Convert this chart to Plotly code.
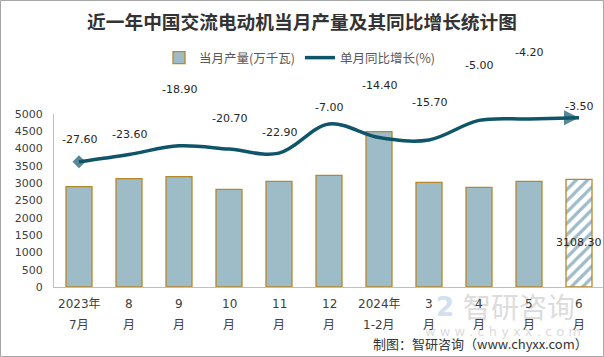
import plotly.graph_objects as go

categories = ["2023年7月", "2023年8月", "2023年9月", "2023年10月", "2023年11月", "2023年12月",
              "2024年1-2月", "2024年3月", "2024年4月", "2024年5月", "2024年6月"]
tick_line1 = ["2023年", "8", "9", "10", "11", "12", "2024年", "3", "4", "5", "6"]
tick_line2 = ["7月", "月", "月", "月", "月", "月", "1-2月", "月", "月", "月", "月"]
output_values = [2900, 3130, 3188, 2824, 3055, 3228, 4489, 3026, 2881, 3055, 3108.30]
yoy_growth = [-27.60, -23.60, -18.90, -20.70, -22.90, -7.00, -14.40, -15.70, -5.00, -4.20, -3.50]
# vertical offsets (px) of the growth data labels, as placed in the original
label_shift = [22, 20, 56, 31, 21, 17, 52, 37, 55, 66, 11]

BAR_FILL = "#9EBBC8"
BAR_EDGE = "#B5882A"
LINE_COL = "#0F5569"
W, H = 604, 357
ML, MR, MT, MB = 54, 0, 114, 70
PW, PH = W - ML - MR, H - MT - MB


def px_x(p):
    return (p - ML) / PW


def px_y(p):
    return (MT + PH - p) / PH


n = len(categories)
patterns = [""] * (n - 1) + ["/"]

fig = go.Figure()
fig.add_trace(go.Bar(
    x=categories, y=output_values, name="当月产量(万千瓦)",
    width=0.52,
    marker=dict(color=BAR_FILL, line=dict(color=BAR_EDGE, width=1.3),
                pattern=dict(shape=patterns, size=8, solidity=0.4, fillmode="replace")),
))

symbols = ["diamond"] + ["circle"] * (n - 2) + ["arrow-right"]
sizes = [10] + [0] * (n - 2) + [15]
fig.add_trace(go.Scatter(
    x=categories, y=yoy_growth, name="单月同比增长(%)", yaxis="y2",
    mode="lines+markers", line=dict(color=LINE_COL, width=3.5, shape="spline", smoothing=1.0),
    marker=dict(symbol=symbols, size=sizes, color=LINE_COL, line=dict(width=0)),
    cliponaxis=False,
))

ann = []
# watermark
ann.append(dict(text="智研咨询", x=px_x(519), y=px_y(306), xref="paper", yref="paper",
                xanchor="center", yanchor="middle",
                showarrow=False, font=dict(family="Noto Sans CJK SC", size=28, color="#DCDCDC")))
ann.append(dict(text="w w w . c h y x x . c o m", x=px_x(503), y=px_y(331),
                xref="paper", yref="paper", xanchor="center", yanchor="middle", showarrow=False,
                font=dict(family="DejaVu Sans", size=13, color="#DCDCDC")))
ann.append(dict(text="<b>2</b>", x=px_x(445), y=px_y(307), xref="paper", yref="paper",
                xanchor="center", yanchor="middle",
                showarrow=False, font=dict(family="DejaVu Sans", size=26, color="#D3E0F0")))

for c, a, b in zip(categories, tick_line1, tick_line2):
    ann.append(dict(text=a, x=c, xref="x", y=0, yref="paper", xanchor="center", yanchor="middle", yshift=-17,
                    showarrow=False, font=dict(family="DejaVu Sans, Noto Sans CJK SC", size=12, color="#404040")))
    ann.append(dict(text=b, x=c, xref="x", y=0, yref="paper", xanchor="center", yanchor="middle", yshift=-38,
                    showarrow=False, font=dict(family="DejaVu Sans, Noto Sans CJK SC", size=12, color="#404040")))

for c, v, s in zip(categories, yoy_growth, label_shift):
    ann.append(dict(text=f"{v:.2f}", x=c, xref="x", y=v, yref="y2", xanchor="center", yanchor="middle", yshift=s,
                    showarrow=False, font=dict(family="DejaVu Sans", size=11, color="#262626")))

ann.append(dict(text=f"{output_values[-1]:.2f}", x=categories[-1], xref="x", y=output_values[-1] / 2,
                yref="y", xanchor="center", yanchor="middle", yshift=-9, showarrow=False,
                font=dict(family="DejaVu Sans", size=11, color="#262626")))

ann.append(dict(text="制图：智研咨询（www.chyxx.com）", x=px_x(590), y=px_y(343),
                xref="paper", yref="paper", xanchor="right", yanchor="middle", showarrow=False,
                font=dict(family="Noto Sans CJK SC", size=13, color="#333333")))

fig.update_layout(
    width=W, height=H, margin=dict(l=ML, r=MR, t=MT, b=MB, pad=0),
    paper_bgcolor="white", plot_bgcolor="white",
    title=dict(text="<b>近一年中国交流电动机当月产量及其同比增长统计图</b>", x=0.5, xref="container",
               xanchor="center", y=1 - 22 / H, yref="container", yanchor="middle",
               font=dict(family="Noto Sans CJK SC", size=18.7, color="#333333")),
    showlegend=True,
    legend=dict(orientation="h", x=px_x(159), xanchor="left", y=px_y(58), yanchor="middle",
                font=dict(family="Noto Sans CJK SC", size=12.5, color="#595959"), itemwidth=30,
                bgcolor="rgba(0,0,0,0)"),
    xaxis=dict(range=[-0.5, n - 0.5], showticklabels=False, showline=True, linecolor="#BFBFBF",
               linewidth=1, ticks="", showgrid=False, zeroline=False),
    yaxis=dict(range=[0, 5000], dtick=500, showline=True, linecolor="#BFBFBF", linewidth=1,
               ticks="", showgrid=False, zeroline=False, ticklabelstandoff=8,
               tickfont=dict(family="DejaVu Sans", size=11, color="#404040")),
    yaxis2=dict(range=[-96.1, -1.5], overlaying="y", side="right", showticklabels=False,
                showgrid=False, zeroline=False, showline=False, ticks=""),
    annotations=ann,
    shapes=[dict(type="rect", xref="paper", yref="paper",
                 x0=px_x(0.5), x1=px_x(603.5), y0=px_y(356.5), y1=px_y(0.5),
                 line=dict(color="#A6A6A6", width=1), fillcolor="rgba(0,0,0,0)", layer="below")],
)

fig.write_html("out.html", config={"displayModeBar": False},
               post_script="document.body.style.margin='0';document.body.style.overflow='hidden';")
